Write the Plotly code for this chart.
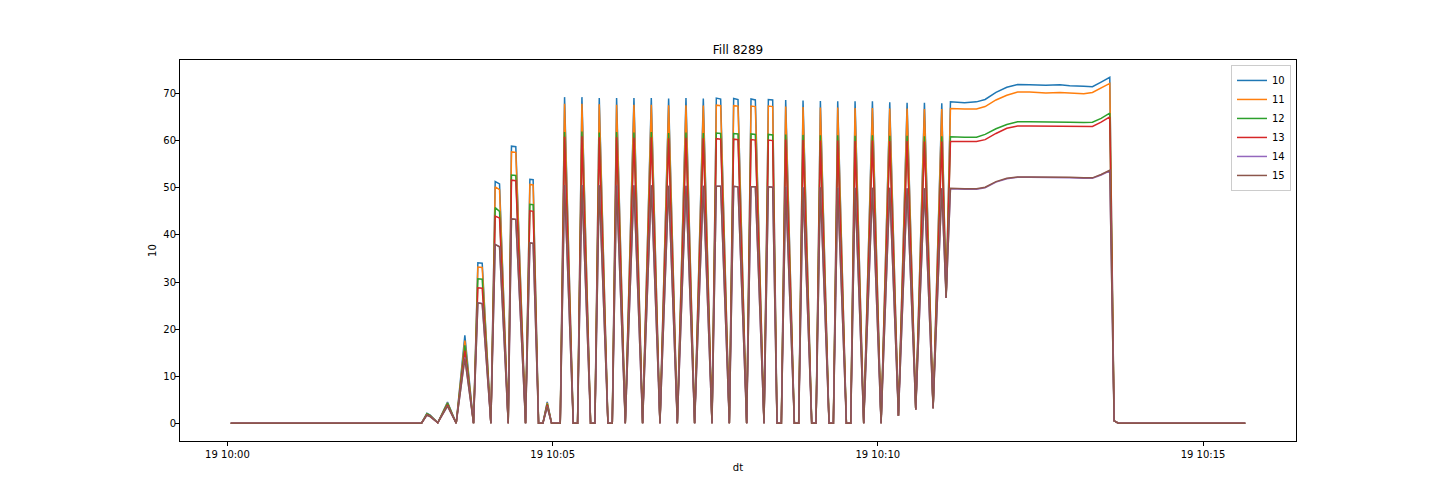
import pandas as pd
import plotly.graph_objects as go

DAY = "2022-10-19"

times = [
    "10:00:03", "10:02:59", "10:03:04", "10:03:07", "10:03:14", "10:03:23", "10:03:31", "10:03:39",
    "10:03:47", "10:03:51", "10:03:55", "10:04:03", "10:04:07", "10:04:11", "10:04:19", "10:04:22",
    "10:04:26", "10:04:35", "10:04:39", "10:04:42", "10:04:47", "10:04:51", "10:04:55", "10:04:59",
    "10:05:07",
    "10:05:11", "10:05:19", "10:05:23", "10:05:27", "10:05:35", "10:05:39", "10:05:43", "10:05:51",
    "10:05:55", "10:05:59", "10:06:07", "10:06:15", "10:06:23", "10:06:31", "10:06:39", "10:06:47",
    "10:06:55", "10:07:03", "10:07:11", "10:07:19", "10:07:27",
    "10:07:31", "10:07:35", "10:07:43", "10:07:47", "10:07:51", "10:07:59", "10:08:03", "10:08:07",
    "10:08:15", "10:08:19", "10:08:23", "10:08:27", "10:08:31",
    "10:08:35", "10:08:43", "10:08:47", "10:08:51", "10:08:59", "10:09:03", "10:09:07", "10:09:15",
    "10:09:19", "10:09:23", "10:09:31", "10:09:35", "10:09:39", "10:09:47", "10:09:55", "10:10:03",
    "10:10:11", "10:10:19", "10:10:27", "10:10:35", "10:10:43", "10:10:51", "10:10:59", "10:11:03",
    "10:11:07", "10:11:20", "10:11:31", "10:11:39", "10:11:49", "10:11:59", "10:12:09", "10:12:20",
    "10:12:35", "10:12:48", "10:12:57", "10:13:10", "10:13:18", "10:13:26", "10:13:34",
    "10:13:38", "10:13:42", "10:15:39",
]

s10 = [
    0.1, 0.1, 2.2, 1.8, 0.2, 4.6, 0.1, 18.7, 0.1, 34.1, 34.0, 0.1, 51.3, 50.8, 0.1, 58.8, 58.7, 0.1, 51.8, 51.7, 0.1, 0.1, 4.6, 0.1, 0.1,
    69.2, 0.1, 0.1, 69.2, 0.1, 0.1, 69.0, 0.1, 0.1, 69.0, 0.1, 69.0, 0.1, 69.0, 0.1, 68.9, 0.1, 69.0, 0.1, 68.9, 0.1,
    69.0, 68.8, 0.1, 68.9, 68.7, 0.1, 68.8, 68.6, 0.1, 68.7, 68.6, 0.1, 0.1,
    68.6, 0.1, 0.1, 68.5, 0.1, 0.1, 68.4, 0.1, 0.1, 68.3, 0.1, 0.1, 68.3, 0.1, 68.3, 0.1, 68.1, 1.7, 68.0, 3.0, 68.0, 3.3, 67.9, 26.7,
    68.2, 68.0, 68.2, 68.7, 70.2, 71.3, 71.9, 71.8, 71.7, 71.8, 71.6, 71.5, 71.4, 72.4, 73.4,
    0.6, 0.1, 0.1,
]
s11 = [
    0.1, 0.1, 2.1, 1.7, 0.2, 4.4, 0.1, 17.6, 0.1, 33.2, 33.1, 0.1, 50.2, 49.6, 0.1, 57.6, 57.5, 0.1, 50.7, 50.6, 0.1, 0.1, 4.4, 0.1, 0.1,
    67.8, 0.1, 0.1, 67.8, 0.1, 0.1, 67.7, 0.1, 0.1, 67.6, 0.1, 67.6, 0.1, 67.6, 0.1, 67.5, 0.1, 67.5, 0.1, 67.4, 0.1,
    67.5, 67.4, 0.1, 67.4, 67.3, 0.1, 67.3, 67.2, 0.1, 67.3, 67.2, 0.1, 0.1,
    67.2, 0.1, 0.1, 67.1, 0.1, 0.1, 67.0, 0.1, 0.1, 67.0, 0.1, 0.1, 66.9, 0.1, 66.9, 0.1, 66.8, 1.7, 66.8, 3.0, 66.7, 3.3, 66.7, 26.7,
    66.8, 66.7, 66.7, 67.2, 68.6, 69.6, 70.3, 70.3, 70.1, 70.2, 70.1, 69.9, 70.2, 71.1, 72.1,
    0.6, 0.1, 0.1,
]
s12 = [
    0.1, 0.1, 2.1, 1.7, 0.2, 4.3, 0.1, 16.6, 0.1, 30.7, 30.6, 0.1, 45.8, 45.0, 0.1, 52.7, 52.6, 0.1, 46.5, 46.4, 0.1, 0.1, 4.2, 0.1, 0.1,
    61.8, 0.1, 0.1, 61.9, 0.1, 0.1, 61.7, 0.1, 0.1, 61.8, 0.1, 61.7, 0.1, 61.8, 0.1, 61.6, 0.1, 61.7, 0.1, 61.6, 0.1,
    61.6, 61.5, 0.1, 61.5, 61.4, 0.1, 61.4, 61.3, 0.1, 61.3, 61.2, 0.1, 0.1,
    61.3, 0.1, 0.1, 61.2, 0.1, 0.1, 61.1, 0.1, 0.1, 61.1, 0.1, 0.1, 61.0, 0.1, 61.1, 0.1, 61.0, 1.7, 61.0, 3.0, 60.9, 3.3, 60.9, 26.7,
    60.8, 60.7, 60.7, 61.3, 62.5, 63.4, 64.0, 64.0, 64.0, 64.0, 63.9, 63.8, 63.9, 64.7, 65.8,
    0.6, 0.1, 0.1,
]
s13 = [
    0.1, 0.1, 1.9, 1.6, 0.2, 4.0, 0.1, 15.5, 0.1, 28.8, 28.7, 0.1, 44.0, 43.6, 0.1, 51.6, 51.5, 0.1, 45.1, 45.0, 0.1, 0.1, 4.0, 0.1, 0.1,
    60.8, 0.1, 0.1, 60.9, 0.1, 0.1, 60.7, 0.1, 0.1, 60.7, 0.1, 60.6, 0.1, 60.7, 0.1, 60.5, 0.1, 60.6, 0.1, 60.5, 0.1,
    60.4, 60.3, 0.1, 60.3, 60.2, 0.1, 60.2, 60.1, 0.1, 60.1, 60.0, 0.1, 0.1,
    60.2, 0.1, 0.1, 60.1, 0.1, 0.1, 60.0, 0.1, 0.1, 60.0, 0.1, 0.1, 59.9, 0.1, 60.0, 0.1, 59.9, 1.7, 59.9, 3.0, 59.8, 3.3, 59.8, 26.7,
    59.8, 59.8, 59.8, 60.2, 61.5, 62.6, 63.1, 63.1, 63.1, 63.0, 63.0, 63.0, 63.0, 63.9, 65.0,
    0.6, 0.1, 0.1,
]
s14 = [
    0.1, 0.1, 1.8, 1.5, 0.2, 3.7, 0.1, 14.0, 0.1, 25.6, 25.5, 0.1, 38.0, 37.5, 0.1, 43.4, 43.3, 0.1, 38.3, 38.2, 0.1, 0.1, 3.6, 0.1, 0.1,
    50.6, 0.1, 0.1, 50.6, 0.1, 0.1, 50.5, 0.1, 0.1, 50.5, 0.1, 50.5, 0.1, 50.5, 0.1, 50.4, 0.1, 50.4, 0.1, 50.4, 0.1,
    50.3, 50.3, 0.1, 50.3, 50.2, 0.1, 50.2, 50.2, 0.1, 50.2, 50.1, 0.1, 0.1,
    50.2, 0.1, 0.1, 50.1, 0.1, 0.1, 50.1, 0.1, 0.1, 50.0, 0.1, 0.1, 50.0, 0.1, 50.0, 0.1, 50.0, 1.7, 49.9, 3.0, 49.9, 3.3, 49.9, 26.7,
    49.8, 49.7, 49.7, 50.0, 51.2, 51.9, 52.2, 52.2, 52.2, 52.1, 52.1, 52.0, 52.0, 52.7, 53.6,
    0.6, 0.1, 0.1,
]
s15 = [
    0.1, 0.1, 1.8, 1.5, 0.2, 3.7, 0.1, 13.8, 0.1, 25.6, 25.4, 0.1, 38.0, 37.5, 0.1, 43.4, 43.3, 0.1, 38.3, 38.2, 0.1, 0.1, 3.6, 0.1, 0.1,
    50.6, 0.1, 0.1, 50.6, 0.1, 0.1, 50.5, 0.1, 0.1, 50.5, 0.1, 50.5, 0.1, 50.5, 0.1, 50.4, 0.1, 50.4, 0.1, 50.4, 0.1,
    50.3, 50.3, 0.1, 50.3, 50.2, 0.1, 50.2, 50.2, 0.1, 50.2, 50.1, 0.1, 0.1,
    50.2, 0.1, 0.1, 50.1, 0.1, 0.1, 50.1, 0.1, 0.1, 50.0, 0.1, 0.1, 50.0, 0.1, 50.0, 0.1, 50.0, 1.7, 49.9, 3.0, 49.9, 3.3, 49.9, 26.7,
    49.9, 49.8, 49.8, 50.1, 51.3, 52.0, 52.3, 52.3, 52.3, 52.2, 52.2, 52.1, 52.1, 52.8, 53.7,
    0.6, 0.1, 0.1,
]

series_names = ["10", "11", "12", "13", "14", "15"]
series_values = [s10, s11, s12, s13, s14, s15]
colors = ["#1f77b4", "#ff7f0e", "#2ca02c", "#d62728", "#9467bd", "#8c564b"]

tick_times = ["10:00", "10:05", "10:10", "10:15"]
tick_labels = ["19 10:00", "19 10:05", "19 10:10", "19 10:15"]
y_ticks = [0, 10, 20, 30, 40, 50, 60, 70]

x = pd.to_datetime([f"{DAY} {t}" for t in times])

fig = go.Figure()
for name, vals, col in zip(series_names, series_values, colors):
    fig.add_trace(go.Scatter(x=x, y=vals, mode="lines", name=name,
                             line=dict(color=col, width=1.5)))

span = x.max() - x.min()
pad = span * 0.05
ymin, ymax = 0.0, max(max(v) for v in series_values)
ypad = (ymax - ymin) * 0.05

# The page body has an 8px margin, so the figure is slightly smaller and offset.
W, H = 1432, 496
FONT = "DejaVu Sans"
fig.update_layout(
    width=W, height=H,
    margin=dict(l=172, r=144, t=52, b=63),
    paper_bgcolor="white", plot_bgcolor="white",
    font=dict(family=FONT, size=10, color="black"),
    title=dict(text="Fill 8289", x=0.5, xref="paper", y=1 - 42 / H, yref="container",
               yanchor="middle", xanchor="center", font=dict(size=12, color="black")),
    showlegend=True,
    legend=dict(x=0.9955, y=0.987, xanchor="right", yanchor="top",
                bordercolor="#cccccc", borderwidth=1, bgcolor="rgba(255,255,255,0.8)",
                font=dict(size=10), itemwidth=30, tracegroupgap=0),
)
fig.update_xaxes(
    range=[x.min() - pad, x.max() + pad],
    tickvals=pd.to_datetime([f"{DAY} {t}" for t in tick_times]),
    ticktext=tick_labels,
    showline=True, linecolor="black", linewidth=1, mirror=True,
    ticks="outside", ticklen=4, tickwidth=1, tickcolor="black",
    showgrid=False, zeroline=False,
    title=dict(text="dt", standoff=4, font=dict(size=10)),
)
fig.update_yaxes(
    range=[ymin - ypad, ymax + ypad],
    tickvals=y_ticks,
    showline=True, linecolor="black", linewidth=1, mirror=True,
    ticks="outside", ticklen=4, tickwidth=1, tickcolor="black",
    ticklabelstandoff=-3,
    showgrid=False, zeroline=False,
    title=dict(text="10", standoff=4, font=dict(size=10)),
)

fig.write_html("out.html")
